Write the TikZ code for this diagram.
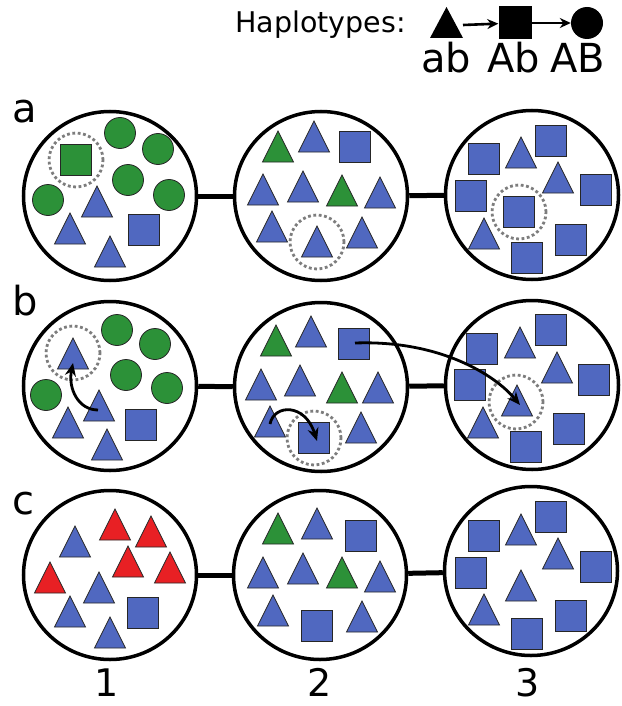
\documentclass[tikz,border=0pt]{standalone}
\usepackage{fontspec}
\setmainfont{DejaVu Sans}
\usetikzlibrary{arrows.meta, shapes.geometric, positioning}
\definecolor{popblue}{RGB}{80,104,192}
\definecolor{popgreen}{RGB}{44,145,56}
\definecolor{popred}{RGB}{232,32,36}
\definecolor{ringgray}{RGB}{125,125,125}
% individuals: colour, x, y (triangle: y of the base)
\newcommand{\htri}[3]{\draw[shp, fill=#1] ({#2-15.5},#3) -- ({#2+15.5},#3) -- (#2,{#3-31}) -- cycle;}
\newcommand{\hsq}[3]{\draw[shp, fill=#1] ({#2-15.5},{#3-15.5}) rectangle ++(31,31);}
\newcommand{\hci}[3]{\draw[shp, fill=#1] (#2,#3) circle[radius=15.5pt];}
\newcommand{\hring}[2]{\draw[ring] (#1,#2) circle[radius=27pt];}

\begin{document}
\begin{tikzpicture}[x=1pt,y=-1pt,
    pop/.style={ellipse, draw, line width=3.5pt, minimum width=173pt, minimum height=169pt, fill=white},
    link/.style={line width=5pt},
    shp/.style={draw=black!85, line width=0.8pt},
    ring/.style={draw=ringgray, line width=2.8pt, dash pattern=on 2.8pt off 2.6pt},
    move/.style={line width=2.8pt, -{Stealth[length=13pt,width=11pt]}},
    hap/.style={line width=2.6pt, -{Stealth[length=11pt,width=10pt]}},
    lbl/.style={font=\fontsize{40}{44}\selectfont, inner sep=0pt}]
    \useasboundingbox (0,0) rectangle (621,706);

    % legend
    \node[font=\fontsize{28.5}{31}\selectfont, inner sep=0pt, anchor=base west] (haplo) at (235,33) {Haplotypes:};
    \fill (430,38) -- (463,38) -- (446.5,7) -- cycle;
    \coordinate (hab) at (463,25);
    \node[fill, minimum size=33pt, inner sep=0pt] (hAb) at (515,23) {};
    \node[circle, fill, minimum size=32pt, inner sep=0pt] (hAB) at (587,23) {};
    \draw[hap] (hab) -- (hAb);
    \draw[hap] (hAb) -- (hAB);
    \node[lbl, anchor=base] (tab) at (446,73) {ab};
    \node[lbl, anchor=base] (tAb) at (514,73) {Ab};
    \node[lbl, anchor=base] (tAB) at (578,73) {AB};

    % populations
    \node[pop] (a1) at (110,196) {};
    \node[pop] (a2) at (321,196) {};
    \node[pop] (a3) at (532,195) {};
    \node[pop] (b1) at (110,386) {};
    \node[pop] (b2) at (321,387) {};
    \node[pop] (b3) at (532,385) {};
    \node[pop] (c1) at (110,575) {};
    \node[pop] (c2) at (320,575) {};
    \node[pop] (c3) at (531,571) {};
    \draw[link] (a1) -- (a2);  \draw[link] (a2) -- (a3);
    \draw[link] (b1) -- (b2);  \draw[link] (b2) -- (b3);
    \draw[link] (c1) -- (c2);  \draw[link] (c2) -- (c3);

    \node[lbl, anchor=base west] (la) at (12,123) {a};
    \node[lbl, anchor=base west] (lb) at (12,315) {b};
    \node[lbl, anchor=base west] (lc) at (12,514) {c};
    \node[lbl, font=\fontsize{38}{42}\selectfont, anchor=base] (n1) at (107,696) {1};
    \node[lbl, font=\fontsize{38}{42}\selectfont, anchor=base] (n2) at (320,696) {2};
    \node[lbl, font=\fontsize{38}{42}\selectfont, anchor=base] (n3) at (528,696) {3};

    % row a
    \hsq{popgreen}{76}{160} \hring{76}{160}
    \hci{popgreen}{120}{133} \hci{popgreen}{158}{149} \hci{popgreen}{128}{180}
    \hci{popgreen}{169}{195} \hci{popgreen}{48}{200}
    \htri{popblue}{97}{217} \htri{popblue}{70}{244} \htri{popblue}{110}{267}
    \hsq{popblue}{144}{230}

    \htri{popgreen}{278}{162} \htri{popblue}{314}{152} \hsq{popblue}{355}{147}
    \htri{popblue}{263}{205} \htri{popblue}{303}{202} \htri{popgreen}{342}{206} \htri{popblue}{380}{208}
    \htri{popblue}{272}{242} \htri{popblue}{317}{257} \htri{popblue}{362}{248}
    \hring{317}{242}

    \hsq{popblue}{484}{159} \hsq{popblue}{551}{141} \hsq{popblue}{596}{190} \hsq{popblue}{471}{196}
    \hsq{popblue}{519}{212} \hsq{popblue}{571}{240} \hsq{popblue}{527}{258}
    \htri{popblue}{521}{168} \htri{popblue}{558}{193} \htri{popblue}{484}{249}
    \hring{519}{212}

    % row b
    \hci{popgreen}{117}{330} \hci{popgreen}{155}{344} \hci{popgreen}{126}{375}
    \hci{popgreen}{167}{388} \hci{popgreen}{46}{395}
    \htri{popblue}{73}{369} \htri{popblue}{99}{421} \htri{popblue}{68}{438} \htri{popblue}{107}{460}
    \hsq{popblue}{141}{425}
    \hring{73}{353}

    \htri{popgreen}{276}{356} \htri{popblue}{311}{347} \hsq{popblue}{354}{344}
    \htri{popblue}{261}{400} \htri{popblue}{300}{396} \htri{popgreen}{342}{403} \htri{popblue}{378}{403}
    \htri{popblue}{270}{437} \hsq{popblue}{314}{438} \htri{popblue}{361}{443}
    \hring{314}{438}

    \hsq{popblue}{482}{349} \hsq{popblue}{551}{330} \hsq{popblue}{594}{380}
    \hsq{popblue}{470}{385} \hsq{popblue}{569}{429} \hsq{popblue}{526}{447}
    \htri{popblue}{520}{358} \htri{popblue}{557}{383} \htri{popblue}{517}{416} \htri{popblue}{483}{438}
    \hring{516}{402}

    % mutation and migration
    \coordinate (mutfrom) at (98,410);
    \coordinate (mutto) at (73,363);
    \coordinate (recfrom) at (270,424);
    \coordinate (recto) at (317,441);
    \coordinate (migfrom) at (355,343);
    \coordinate (migto) at (520,405);
    \draw[move] (mutfrom) .. controls (78,410) and (68,388) .. (mutto);
    \draw[move] (recfrom) .. controls (274,404) and (305,403) .. (recto);
    \draw[move] (migfrom) .. controls (440,340) and (495,375) .. (migto);

    % row c
    \htri{popred}{115}{540} \htri{popred}{151}{547} \htri{popred}{128}{577}
    \htri{popred}{170}{583} \htri{popred}{50}{593}
    \htri{popblue}{75}{557} \htri{popblue}{99}{603} \htri{popblue}{70}{627} \htri{popblue}{110}{648}
    \hsq{popblue}{143}{613}

    \htri{popgreen}{278}{544} \htri{popblue}{317}{539} \hsq{popblue}{361}{536}
    \htri{popblue}{263}{588} \htri{popblue}{303}{584} \htri{popgreen}{342}{588} \htri{popblue}{380}{592}
    \htri{popblue}{273}{626} \hsq{popblue}{317}{626} \htri{popblue}{362}{632}

    \hsq{popblue}{484}{536} \hsq{popblue}{551}{517} \hsq{popblue}{596}{567}
    \hsq{popblue}{471}{573} \hsq{popblue}{571}{616} \hsq{popblue}{527}{634}
    \htri{popblue}{521}{545} \htri{popblue}{558}{569} \htri{popblue}{521}{601} \htri{popblue}{484}{625}
\end{tikzpicture}
\end{document}
